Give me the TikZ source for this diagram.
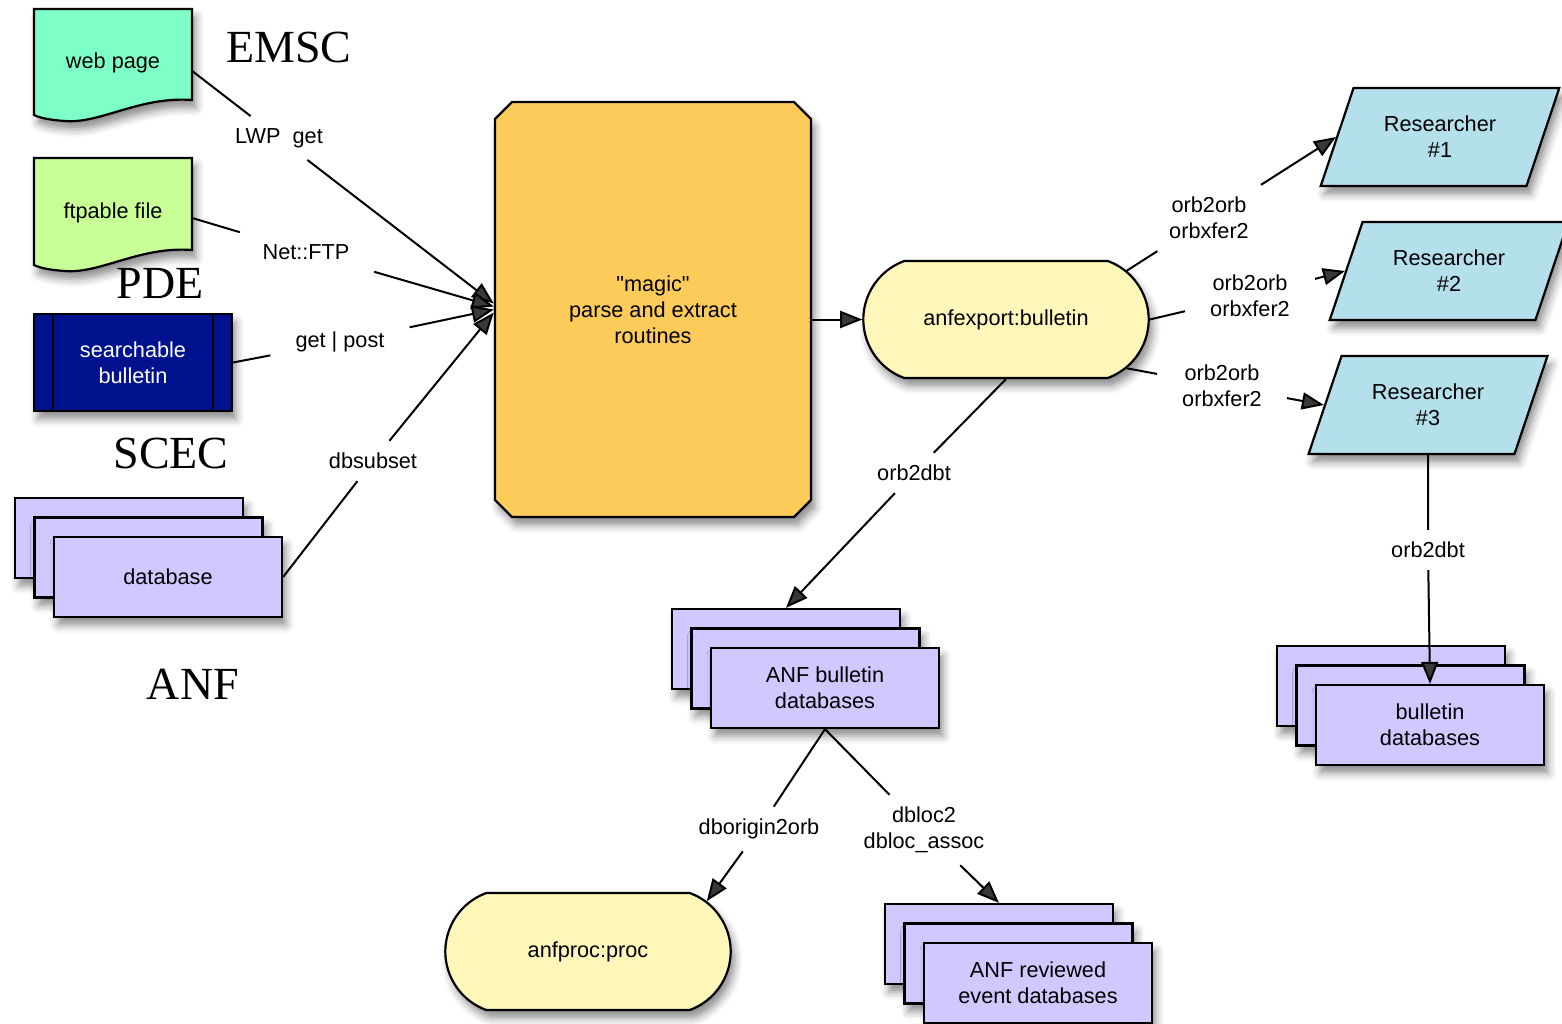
\documentclass[tikz,border=0pt]{standalone}
\usepackage{fontspec}
\setmainfont[Ligatures=TeXOff]{Liberation Sans}
\newfontfamily\serifbig{Liberation Serif}
\usetikzlibrary{arrows.meta,shapes.misc,shapes.geometric,shadows.blur,calc}
\definecolor{webfill}{RGB}{127,255,200}
\definecolor{ftpfill}{RGB}{200,255,150}
\definecolor{sbfill}{RGB}{0,18,142}
\definecolor{dbfill}{RGB}{208,200,255}
\definecolor{magicfill}{RGB}{253,203,89}
\definecolor{pillfill}{RGB}{255,247,185}
\definecolor{resfill}{RGB}{180,224,236}
\tikzset{
 shad/.style={blur shadow={shadow xshift=4pt,shadow yshift=-8pt,shadow blur radius=8pt,shadow opacity=45}},
 shp/.style={draw=black,line width=2.2pt},
 dbbox/.style={shp,shad,fill=dbfill,rectangle,minimum width=228pt,minimum height=80pt,align=center},
 pill/.style={shp,shad,fill=pillfill,rounded rectangle,rounded rectangle arc length=140,minimum width=292pt,minimum height=117pt},
 resbox/.style={shp,shad,fill=resfill,trapezium,trapezium left angle=65,trapezium right angle=115,trapezium stretches=true,minimum width=239pt,minimum height=98pt,align=center},
 lbl/.style={inner xsep=25pt,inner ysep=12pt,align=center},
 conn/.style={line width=2pt},
 arr/.style={conn,-{Triangle[length=22pt,width=17pt]}},
 bigserif/.style={font=\serifbig\fontsize{46pt}{50pt}\selectfont,inner sep=0pt},
}
\newcommand\dbstack[4]{%
 \node[dbbox] (#1-back) at (#2-39,#3-39) {};
 \node[dbbox] (#1-mid) at (#2-19.5,#3-19.5) {};
 \node[dbbox] (#1) at (#2,#3) {#4};
}
\begin{document}
\begin{tikzpicture}[x=1pt,y=-1pt,font=\fontsize{21.7pt}{26pt}\selectfont]
\useasboundingbox (0,0) rectangle (1562,1024);

% ---- sources
\path[shp,shad,fill=webfill] (34,9) -- (192,9) -- (192,100) .. controls (140,96) and (100,124) .. (65,121) .. controls (50,120) and (40,118) .. (34,115) -- cycle;
\node[minimum width=158pt,minimum height=106pt] (web) at (113,63) {web page};

\path[shp,shad,fill=ftpfill] (34,158) -- (192,158) -- (192,250) .. controls (140,246) and (100,274) .. (65,271) .. controls (50,270) and (40,268) .. (34,265) -- cycle;
\node[minimum width=158pt,minimum height=100pt] (ftp) at (113,213) {ftpable file};

\node[shp,shad,fill=sbfill,text=white,minimum width=198pt,minimum height=97pt,align=center] (sb) at (133,362.5) {searchable\\bulletin};
\draw[line width=2.2pt] ([xshift=20pt]sb.north west) -- ([xshift=20pt]sb.south west);
\draw[line width=2.2pt] ([xshift=-20pt]sb.north east) -- ([xshift=-20pt]sb.south east);

\dbstack{db}{168}{577}{database}

\node[bigserif] (emsc) at (289,47) {EMSC};
\node[bigserif] (pde) at (160,283) {PDE};
\node[bigserif] (scec) at (171,453) {SCEC};
\node[bigserif] (anfl) at (193,684) {ANF};

% ---- magic box
\path[shp,shad,fill=magicfill] (512,102) -- (794,102) -- (811,119) -- (811,500) -- (794,517) -- (512,517) -- (495,500) -- (495,119) -- cycle;
\node[minimum width=316pt,minimum height=415pt,align=center] (magic) at (653,309.5) {"magic"\\parse and extract\\routines};

% ---- export
\node[pill] (anf) at (1006,319.5) {anfexport:bulletin};
\node[resbox] (r1) at (1440,137) {Researcher\\\#1};
\node[resbox] (r2) at (1449,271) {Researcher\\\#2};
\node[resbox] (r3) at (1428,405) {Researcher\\\#3};

\dbstack{anfdb}{825}{688}{ANF bulletin\\databases}
\dbstack{bdb}{1430}{725}{bulletin\\databases}
\dbstack{rev}{1038}{983}{ANF reviewed\\event databases}
\node[pill] (apr) at (588,951.5) {anfproc:proc};

% ---- labels
\node[lbl] (lwp) at (279,138) {LWP\ \ get};
\node[lbl] (ftpl) at (306,252) {Net::FTP};
\node[lbl] (gpl) at (340,342) {get | post};
\node[lbl] (dbl) at (373,461) {dbsubset};
\node[lbl] (o1) at (1209,218) {orb2orb\\orbxfer2};
\node[lbl] (o2) at (1250,296) {orb2orb\\orbxfer2};
\node[lbl] (o3) at (1222,386) {orb2orb\\orbxfer2};
\node[lbl] (od1) at (914,473) {orb2dbt};
\node[lbl] (od2) at (1428,550) {orb2dbt};
\node[lbl] (dbo) at (759,829) {dborigin2orb};
\node[lbl] (dbl2) at (924,830) {dbloc2\\dbloc\_assoc};

% ---- connectors
\draw[conn] ([yshift=-8pt]web.east) -- (lwp);
\draw[arr] (lwp) -- ([xshift=-1pt,yshift=6pt]magic.west);
\draw[conn] ([yshift=-5pt]ftp.east) -- (ftpl);
\draw[arr] (ftpl) -- ([xshift=-1pt,yshift=3pt]magic.west);
\draw[conn] (sb.east) -- (gpl);
\draw[arr] (gpl) -- ([xshift=-1pt]magic.west);
\draw[conn] (db.east) -- (dbl);
\draw[arr] (dbl) -- ([xshift=-1pt,yshift=-3pt]magic.west);

\draw[arr] (magic.east |- anf.west) -- (anf.west);

\draw[conn] (anf.22) -- (o1);
\draw[arr] (o1) -- (r1.left side);
\draw[conn] (anf.east) -- (o2);
\draw[arr] (o2) -- (r2.left side);
\draw[conn] (anf.-22) -- (o3);
\draw[arr] (o3) -- (r3.left side);

\draw[conn] (anf.south) -- (od1);
\draw[arr] (od1) -- (anfdb-back.north);
\draw[conn] (r3.south) -- (od2);
\draw[arr] (od2) -- (bdb.north);

\draw[conn] (anfdb.south) -- (dbo);
\draw[arr] (dbo) -- (apr.23);
\draw[conn] (anfdb.south) -- (dbl2);
\draw[arr] (dbl2) -- (rev-back.north);
\end{tikzpicture}
\end{document}
